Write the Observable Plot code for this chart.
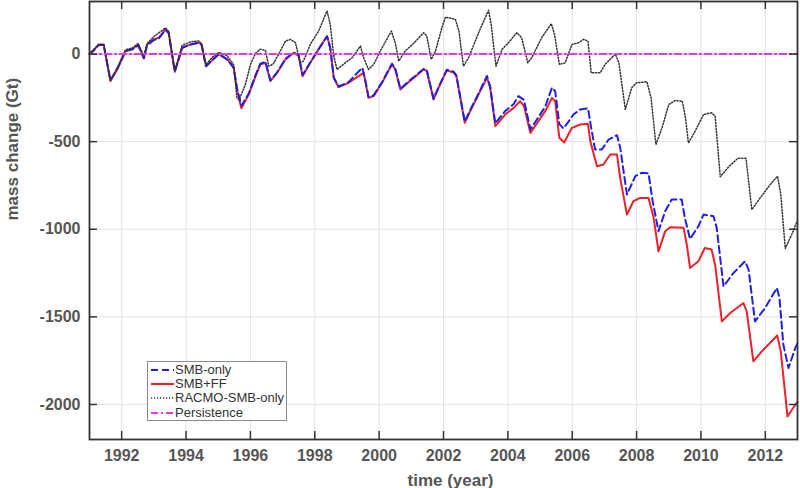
<!DOCTYPE html>
<html>
<head>
<meta charset="utf-8">
<script src="https://cdn.jsdelivr.net/npm/d3@7"></script>
<script src="https://cdn.jsdelivr.net/npm/@observablehq/plot@0.6"></script>
<style>
  html, body { margin: 0; padding: 0; background: #fff; }
  #wrap { position: relative; width: 800px; height: 488px; }
  #legend {
    position: absolute; left: 147px; top: 361px; width: 140px; height: 60px;
    border: 1px solid #8a8a8a; background: #fff; box-sizing: border-box;
    font-family: "Liberation Sans", Arial, sans-serif; font-size: 13px; color: #333;
    padding-top: 1px; white-space: nowrap; overflow: visible;
  }
  .row { display: flex; align-items: center; height: 14.2px; line-height: 14px; white-space: nowrap; }
  .row svg { margin-left: 3px; margin-right: 1px; flex: none; }
  .row span { flex: none; white-space: nowrap; }
</style>
</head>
<body>
<div id="wrap"><div id="legend"></div></div>
<script>
// ---- data ----
const seriesNames = ["SMB-only", "SMB+FF", "RACMO-SMB-only", "Persistence"];
const xTicks = [1992, 1994, 1996, 1998, 2000, 2002, 2004, 2006, 2008, 2010, 2012];
const yTicks = [0, -500, -1000, -1500, -2000];
const xTitle = "time (year)";
const yTitle = "mass change (Gt)";

const smbFFT = [1991.0,1991.12,1991.29,1991.44,1991.65,1991.86,1992.12,1992.33,1992.51,1992.69,1992.79,1993.0,1993.15,1993.36,1993.46,1993.65,1993.88,1994.14,1994.39,1994.48,1994.62,1994.81,1995.02,1995.28,1995.48,1995.59,1995.72,1995.95,1996.16,1996.31,1996.47,1996.62,1996.83,1997.09,1997.35,1997.5,1997.62,1997.86,1998.12,1998.38,1998.48,1998.59,1998.74,1999.05,1999.36,1999.52,1999.67,1999.83,2000.09,2000.40,2000.50,2000.66,2000.92,2001.12,2001.38,2001.48,2001.69,2001.85,2002.1,2002.31,2002.4,2002.66,2002.83,2003.09,2003.35,2003.45,2003.61,2003.92,2004.18,2004.38,2004.5,2004.7,2004.95,2005.16,2005.37,2005.47,2005.6,2005.75,2005.99,2006.25,2006.49,2006.56,2006.77,2006.97,2007.18,2007.39,2007.49,2007.70,2007.9,2008.11,2008.37,2008.53,2008.68,2008.89,2009.04,2009.46,2009.56,2009.66,2009.92,2010.12,2010.33,2010.44,2010.65,2010.91,2011.32,2011.42,2011.63,2011.89,2012.37,2012.48,2012.69,2012.93,2013.0];
const smbFFV = [0,20,55,55,-154,-88,17,27,55,-21,55,84,93,141,122,-101,36,55,65,55,-69,-36,0,-30,-78,-211,-310,-230,-126,-59,-50,-154,-107,-30,8,-11,-126,-50,27,103,36,-135,-189,-164,-126,-107,-250,-240,-164,-59,-88,-202,-160,-130,-88,-95,-259,-192,-93,-105,-126,-392,-326,-230,-135,-192,-411,-345,-307,-269,-297,-450,-383,-326,-250,-269,-478,-505,-421,-402,-398,-497,-640,-630,-573,-573,-707,-916,-840,-821,-821,-935,-1126,-1011,-989,-992,-1087,-1221,-1183,-1107,-1116,-1202,-1526,-1478,-1421,-1468,-1754,-1697,-1606,-1697,-2069,-2002,-1985];

const smbOnlyT = [1991.0,1991.12,1991.29,1991.44,1991.65,1991.86,1992.12,1992.33,1992.51,1992.69,1992.79,1993.0,1993.15,1993.36,1993.46,1993.65,1993.88,1994.14,1994.39,1994.48,1994.62,1994.81,1995.02,1995.28,1995.48,1995.59,1995.72,1995.95,1996.16,1996.31,1996.47,1996.62,1996.83,1997.09,1997.35,1997.5,1997.62,1997.86,1998.12,1998.38,1998.48,1998.59,1998.74,1999.05,1999.36,1999.48,1999.57,1999.67,1999.83,2000.09,2000.40,2000.50,2000.66,2000.92,2001.12,2001.38,2001.48,2001.69,2001.85,2002.1,2002.31,2002.4,2002.66,2002.83,2003.09,2003.35,2003.45,2003.61,2003.92,2004.18,2004.33,2004.5,2004.7,2004.95,2005.16,2005.37,2005.47,2005.6,2005.73,2006.04,2006.25,2006.49,2006.59,2006.71,2006.92,2007.13,2007.39,2007.49,2007.70,2007.96,2008.16,2008.37,2008.5,2008.68,2008.89,2009.09,2009.4,2009.5,2009.66,2009.92,2010.08,2010.39,2010.49,2010.70,2011.01,2011.37,2011.48,2011.68,2011.99,2012.36,2012.44,2012.56,2012.72,2012.93,2013.0];
const smbOnlyV = [0,18,52,52,-150,-85,17,27,50,-25,50,80,88,138,120,-100,36,55,65,55,-70,-36,0,-30,-78,-200,-295,-225,-120,-55,-45,-150,-104,-28,10,-8,-120,-48,28,100,36,-135,-185,-160,-100,-78,-150,-245,-235,-160,-55,-82,-198,-155,-125,-85,-92,-255,-188,-90,-100,-122,-385,-320,-225,-125,-185,-395,-325,-285,-240,-262,-430,-360,-300,-192,-212,-400,-425,-345,-316,-310,-421,-545,-545,-488,-463,-533,-802,-697,-678,-680,-840,-1011,-897,-830,-830,-935,-1055,-983,-916,-926,-992,-1326,-1250,-1183,-1230,-1526,-1450,-1335,-1392,-1659,-1792,-1678,-1650];

const racmoT = [1991.0,1991.12,1991.29,1991.44,1991.65,1991.86,1992.12,1992.33,1992.51,1992.69,1992.79,1993.0,1993.15,1993.36,1993.46,1993.65,1993.88,1994.14,1994.39,1994.48,1994.62,1994.81,1995.02,1995.28,1995.48,1995.58,1995.65,1995.85,1996.0,1996.16,1996.31,1996.47,1996.57,1996.7,1996.88,1997.09,1997.24,1997.4,1997.55,1997.65,1997.86,1998.12,1998.38,1998.48,1998.59,1998.69,1998.95,1999.16,1999.42,1999.52,1999.67,1999.83,2000.09,2000.38,2000.5,2000.61,2000.81,2001.12,2001.38,2001.48,2001.62,2001.75,2001.95,2002.06,2002.37,2002.48,2002.62,2002.78,2003.09,2003.4,2003.48,2003.63,2003.82,2004.02,2004.28,2004.43,2004.62,2004.74,2005.05,2005.35,2005.45,2005.6,2005.78,2005.99,2006.2,2006.35,2006.49,2006.59,2006.87,2007.02,2007.18,2007.34,2007.45,2007.65,2007.85,2008.0,2008.32,2008.45,2008.6,2008.79,2009.0,2009.2,2009.42,2009.52,2009.61,2009.82,2010.08,2010.33,2010.44,2010.6,2010.88,2011.15,2011.4,2011.58,2011.84,2012.15,2012.38,2012.48,2012.62,2012.82,2013.0];
const racmoV = [0,25,55,55,-150,-80,25,35,60,-15,60,100,120,150,130,-95,50,70,75,60,-60,-20,10,-10,-60,-250,-262,-170,-60,5,28,20,-69,-59,0,74,84,65,-50,-40,55,131,246,170,-11,-88,-50,-21,46,-21,-88,-59,36,131,65,-40,17,70,122,103,-30,17,150,211,198,131,-69,-21,122,250,170,-69,27,65,122,93,-50,-21,93,173,112,-59,-50,55,65,84,74,-107,-107,-59,-30,0,-50,-316,-192,-164,-158,-250,-516,-421,-288,-265,-269,-364,-507,-440,-345,-335,-354,-700,-640,-595,-595,-888,-821,-745,-697,-800,-1110,-1030,-950];

const persistenceT = [1991, 2013];
const persistenceV = [0, 0];

const colors = {"SMB-only": "#2020e0", "SMB+FF": "#e8232a", "RACMO-SMB-only": "#333333", "Persistence": "#e33be3"};
const dashes = {"SMB-only": "7,4", "SMB+FF": null, "RACMO-SMB-only": "1.2,1.8", "Persistence": "7,3,2,3"};
const widths = {"SMB-only": 2, "SMB+FF": 2, "RACMO-SMB-only": 1.5, "Persistence": 2};

const toRows = (T, V) => T.map((t, i) => ({t, v: V[i]}));
const smbFF = toRows(smbFFT, smbFFV);
const smbOnly = toRows(smbOnlyT, smbOnlyV);
const racmo = toRows(racmoT, racmoV);
const persistence = toRows(persistenceT, persistenceV);

const lineOpts = (name) => {
  const o = {x: "t", y: "v", stroke: colors[name], strokeWidth: widths[name]};
  if (dashes[name]) o.strokeDasharray = dashes[name];
  return o;
};

const chart = Plot.plot({
  width: 800, height: 488,
  marginLeft: 89, marginRight: 3, marginTop: 1, marginBottom: 49,
  style: {fontFamily: "'Liberation Sans', Arial, sans-serif", fontSize: "16px", fontWeight: "bold", color: "#555", background: "#fff"},
  x: {domain: [1991, 2013], ticks: xTicks, tickFormat: d => String(d), tickSize: 0, tickPadding: 10, label: null},
  y: {domain: [-2200, 300], ticks: yTicks, tickFormat: d => String(d), tickSize: 0, tickPadding: 9, label: null},
  marks: [
    Plot.ruleX(xTicks, {stroke: "#e2e2e2", strokeWidth: 1}),
    Plot.ruleY(yTicks, {stroke: "#e2e2e2", strokeWidth: 1}),
    Plot.line(smbFF, lineOpts("SMB+FF")),
    Plot.line(smbOnly, lineOpts("SMB-only")),
    Plot.line(racmo, lineOpts("RACMO-SMB-only")),
    Plot.line(persistence, lineOpts("Persistence")),
    Plot.tickX(xTicks, {stroke: "#333", strokeWidth: 1.5, insetTop: 430}),
    Plot.tickX(xTicks, {stroke: "#333", strokeWidth: 1.5, insetBottom: 430}),
    Plot.tickY(yTicks, {stroke: "#333", strokeWidth: 1.5, insetRight: 700}),
    Plot.tickY(yTicks, {stroke: "#333", strokeWidth: 1.5, insetLeft: 700}),
    Plot.frame({stroke: "#333", strokeWidth: 1.8}),
    Plot.text([xTitle], {text: d => d, frameAnchor: "bottom", dx: 7, dy: 46, fontSize: 17, fontWeight: "bold", fill: "#555"}),
    Plot.text([yTitle], {text: d => d, frameAnchor: "left", dx: -77, rotate: -90, fontSize: 17, fontWeight: "bold", fill: "#555"})
  ]
});
const wrap = document.getElementById("wrap");
wrap.insertBefore(chart, wrap.firstChild);

// legend
const legend = document.getElementById("legend");
for (const name of seriesNames) {
  const row = document.createElement("div");
  row.className = "row";
  const dash = dashes[name] ? `stroke-dasharray="${dashes[name]}"` : "";
  row.innerHTML = `<svg width="23" height="10"><line x1="0" y1="5" x2="23" y2="5" stroke="${colors[name]}" stroke-width="${widths[name]}" ${dash}/></svg><span>${name}</span>`;
  legend.appendChild(row);
}
</script>
</body>
</html>
